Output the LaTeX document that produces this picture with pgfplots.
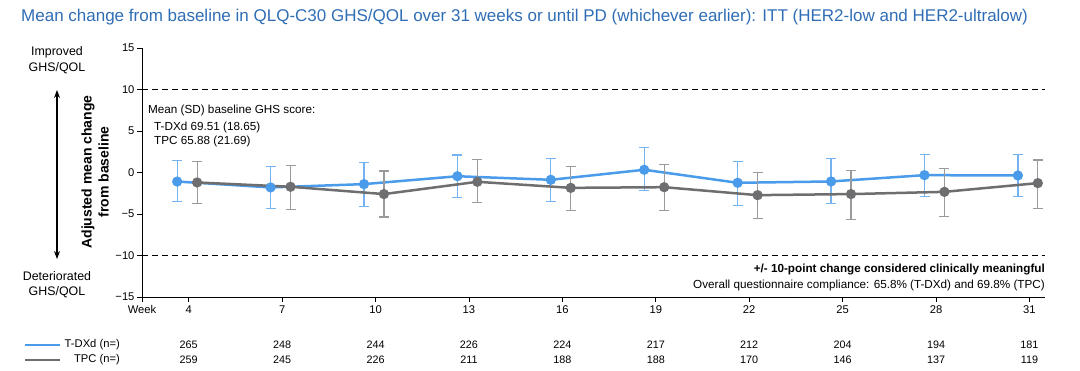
\documentclass[border=0pt]{standalone}
\usepackage{pgfplots}
\usepackage{pgfplotstable}
\pgfplotsset{compat=1.18}
\usetikzlibrary{arrows.meta}
\usepackage{fontspec}
\setmainfont{Liberation Sans}
\definecolor{tblue}{HTML}{4A9BE9}
\definecolor{tblueeb}{HTML}{74B2F0}
\definecolor{tgray}{HTML}{6E6E70}
\definecolor{tgrayeb}{HTML}{9A9A9C}
\definecolor{ttitle}{HTML}{2F6DB5}

\pgfplotstableread{
x y ep em
3.63 -1.09 2.54 2.44
6.63 -1.80 2.57 2.50
9.63 -1.40 2.65 2.66
12.63 -0.45 2.55 2.55
15.63 -0.88 2.53 2.57
18.63 0.33 2.67 2.53
21.63 -1.24 2.57 2.70
24.63 -1.08 2.77 2.62
27.63 -0.32 2.52 2.61
30.63 -0.36 2.53 2.54
}\tdxd

\pgfplotstableread{
x y ep em
4.27 -1.20 2.53 2.58
7.27 -1.72 2.52 2.74
10.27 -2.60 2.77 2.75
13.27 -1.12 2.69 2.54
16.27 -1.85 2.62 2.77
19.27 -1.77 2.74 2.77
22.27 -2.73 2.77 2.82
25.27 -2.60 2.84 3.03
28.27 -2.33 2.86 2.93
31.27 -1.28 2.78 3.02
}\tpc

\begin{document}
\begin{tikzpicture}[x=1pt,y=1pt]
\path[use as bounding box] (0,0) rectangle (1080,370);
\begin{axis}[
  at={(142pt,73pt)}, anchor=south west,
  scale only axis, width=903pt, height=249pt,
  xmin=2.5, xmax=31.5, ymin=-15, ymax=15,
  axis lines*=left,
  axis line style={black, line width=0.8pt},
  tick align=outside,
  major tick length=5pt,
  tick style={black, line width=0.8pt},
  xtick={2.5,4,7,10,13,16,19,22,25,28,31},
  xticklabels={Week,4,7,10,13,16,19,22,25,28,31},
  ytick={-15,-10,-5,0,5,10,15},
  yticklabels={−15,−10,−5,0,5,10,15},
  ticklabel style={font=\fontsize{11.2}{13}\selectfont},
  yticklabel style={xshift=1pt},
  clip=false,
]
\addplot[black, line width=0.8pt, dash pattern=on 6pt off 4pt, forget plot] coordinates {(2.5,10) (31.5,10)};
\addplot[black, line width=0.8pt, dash pattern=on 6pt off 4pt, forget plot] coordinates {(2.5,-10) (31.5,-10)};

\addplot[tblue, line width=2.5pt, mark=*, mark size=3.8pt,
  error bars/.cd, y dir=both, y explicit,
  error bar style={tblueeb, line width=1.2pt},
  error mark options={rotate=90, mark size=5pt, tblueeb, line width=1.2pt}]
  table[x=x, y=y, y error plus=ep, y error minus=em] {\tdxd};
\addplot[tgray, line width=2.5pt, mark=*, mark size=3.8pt,
  error bars/.cd, y dir=both, y explicit,
  error bar style={tgrayeb, line width=1.2pt},
  error mark options={rotate=90, mark size=5pt, tgrayeb, line width=1.2pt}]
  table[x=x, y=y, y error plus=ep, y error minus=em] {\tpc};

\tikzset{nlab/.style={font=\fontsize{10.8}{12}\selectfont}}
\node[nlab] at (axis cs:4,-20.8) {265};
\node[nlab] at (axis cs:7,-20.8) {248};
\node[nlab] at (axis cs:10,-20.8) {244};
\node[nlab] at (axis cs:13,-20.8) {226};
\node[nlab] at (axis cs:16,-20.8) {224};
\node[nlab] at (axis cs:19,-20.8) {217};
\node[nlab] at (axis cs:22,-20.8) {212};
\node[nlab] at (axis cs:25,-20.8) {204};
\node[nlab] at (axis cs:28,-20.8) {194};
\node[nlab] at (axis cs:31,-20.8) {181};
\node[nlab] at (axis cs:4,-22.6) {259};
\node[nlab] at (axis cs:7,-22.6) {245};
\node[nlab] at (axis cs:10,-22.6) {226};
\node[nlab] at (axis cs:13,-22.6) {211};
\node[nlab] at (axis cs:16,-22.6) {188};
\node[nlab] at (axis cs:19,-22.6) {188};
\node[nlab] at (axis cs:22,-22.6) {170};
\node[nlab] at (axis cs:25,-22.6) {146};
\node[nlab] at (axis cs:28,-22.6) {137};
\node[nlab] at (axis cs:31,-22.6) {119};
\end{axis}

\node[anchor=base west, text=ttitle, font=\fontsize{17}{19}\selectfont, inner sep=0] at (21,348) {Mean change from baseline in QLQ-C30 GHS/QOL over 31 weeks or until PD (whichever earlier): ITT (HER2-low and HER2-ultralow)};

\node[rotate=90, align=center, font=\bfseries\fontsize{14}{17}\selectfont] at (95,198) {Adjusted mean change\\from baseline};
\draw[line width=1.1pt, {Stealth[length=8pt,width=6pt]}-{Stealth[length=8pt,width=6pt]}] (57,111) -- (57,280);

\node[align=center, font=\fontsize{12.4}{15.3}\selectfont] at (57,309.7) {Improved\\GHS/QOL};
\node[align=center, font=\fontsize{12.4}{15.3}\selectfont] at (57,85.5) {Deteriorated\\GHS/QOL};

\node[anchor=west, font=\fontsize{11.7}{13}\selectfont, inner sep=0] at (148,260) {Mean (SD) baseline GHS score:};
\node[anchor=west, font=\fontsize{11.7}{13}\selectfont, inner sep=0] at (154,243) {T-DXd 69.51 (18.65)};
\node[anchor=west, font=\fontsize{11.7}{13}\selectfont, inner sep=0] at (154,229) {TPC 65.88 (21.69)};

\node[anchor=east, font=\bfseries\fontsize{11.7}{13}\selectfont, inner sep=0] at (1045,100) {+/- 10-point change considered clinically meaningful};
\node[anchor=east, font=\fontsize{11.7}{13}\selectfont, inner sep=0] at (1045,84.5) {Overall questionnaire compliance: 65.8\% (T-DXd) and 69.8\% (TPC)};

\draw[tblue, line width=2.5pt] (25,25) -- (60,25);
\draw[tgray, line width=2.5pt] (25,10) -- (60,10);
\node[anchor=east, font=\fontsize{11.2}{13}\selectfont, inner sep=0] at (120,25) {T-DXd (n=)};
\node[anchor=east, font=\fontsize{11.2}{13}\selectfont, inner sep=0] at (120,10) {TPC (n=)};
\end{tikzpicture}
\end{document}
